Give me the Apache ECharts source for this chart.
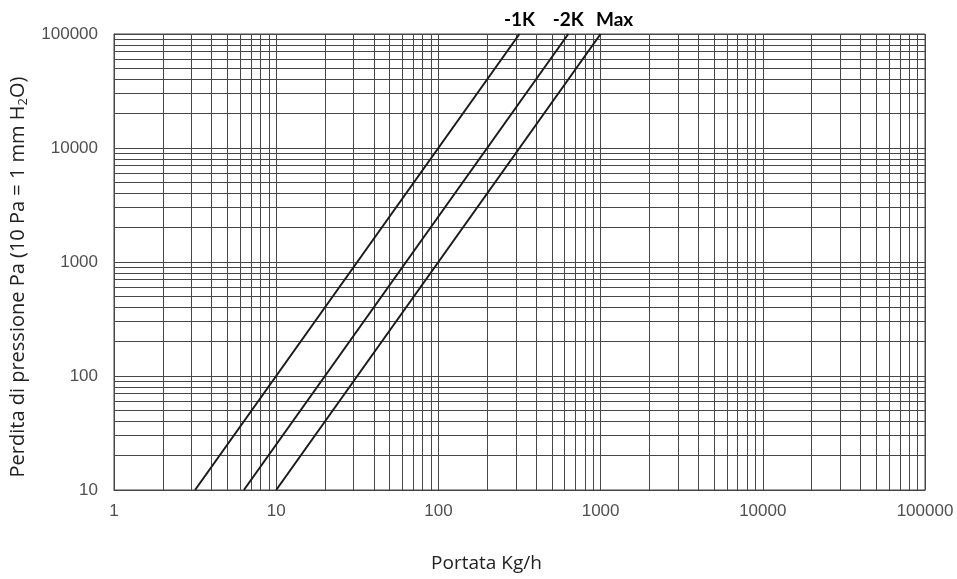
<!DOCTYPE html>
<html>
<head>
<meta charset="utf-8">
<script src="https://cdn.jsdelivr.net/npm/echarts@6/dist/echarts.min.js"></script>
<style>
  html, body { margin: 0; padding: 0; background: #fff; }
  #chart { width: 957px; height: 579px; }
</style>
</head>
<body>
<div id="chart"></div>
<script>
// curves: Portata Kg/h vs perdita di pressione Pa
const curveNames = ['-1K', '-2K', 'Max'];
const curve1K = [[3.16, 10], [316, 100000]];
const curve2K = [[6.32, 10], [632, 100000]];
const curveMax = [[10, 10], [1000, 100000]];

// axis range (decades)
const xTicks = [1, 10, 100, 1000, 10000, 100000];
const yTicks = [10, 100, 1000, 10000, 100000];

// minor grid values 2..9 in each decade
function minorValues(ticks) {
  const out = [];
  for (let i = 0; i < ticks.length - 1; i++) {
    for (let m = 2; m <= 9; m++) out.push(ticks[i] * m);
  }
  return out;
}

const gridColor = '#474747';
const chart = echarts.init(document.getElementById('chart'));

const curveStyle = { color: '#1a1a1a', width: 2 };
const endLabel = (text, dx) => ({
  show: true,
  position: 'top',
  distance: 5,
  offset: [dx, 0],
  formatter: text,
  color: '#000',
  fontWeight: 'bold',
  fontSize: 19,
  fontFamily: 'Lato, Liberation Sans, Arial, sans-serif'
});

function curveSeries(name, pts, dx) {
  return {
    name: name,
    type: 'line',
    symbol: 'circle',
    symbolSize: 0,
    showSymbol: true,
    lineStyle: curveStyle,
    itemStyle: { color: '#1a1a1a' },
    clip: false,
    data: [pts[0], { value: pts[1], label: endLabel(name, dx) }],
    z: 5
  };
}

const option = {
  backgroundColor: '#fff',
  animation: false,
  grid: {
    left: 114,
    right: 32,
    top: 34,
    bottom: 89,
    containLabel: false,
    outerBoundsMode: 'none',
    show: true,
    borderColor: gridColor,
    borderWidth: 1
  },
  xAxis: {
    type: 'log',
    logBase: 10,
    min: xTicks[0],
    max: xTicks[xTicks.length - 1],
    name: 'Portata Kg/h',
    nameLocation: 'middle',
    nameGap: 64,
    nameTextStyle: {
      color: '#222',
      fontSize: 19,
      fontFamily: 'Open Sans, sans-serif',
      padding: [0, 66, 0, 0]
    },
    axisLine: { show: true, lineStyle: { color: gridColor } },
    axisTick: { show: false },
    axisLabel: {
      color: '#505050',
      fontSize: 17,
      fontFamily: 'Liberation Sans, Arial, sans-serif',
      margin: 13,
      formatter: v => String(Math.round(v))
    },
    splitLine: { show: true, lineStyle: { color: gridColor, width: 1 } }
  },
  yAxis: {
    type: 'log',
    logBase: 10,
    min: yTicks[0],
    max: yTicks[yTicks.length - 1],
    name: 'Perdita di pressione Pa (10 Pa = 1 mm H{sub|2}O)',
    nameLocation: 'middle',
    nameGap: 84,
    nameTextStyle: {
      color: '#222',
      fontSize: 20,
      fontFamily: 'Open Sans, sans-serif',
      padding: [0, 30, 0, 0],
      rich: {
        sub: { fontSize: 13, color: '#222', fontFamily: 'Open Sans, sans-serif', padding: [11, 0, 0, 0] }
      }
    },
    axisLine: { show: true, lineStyle: { color: gridColor } },
    axisTick: { show: false },
    axisLabel: {
      color: '#505050',
      fontSize: 17,
      fontFamily: 'Liberation Sans, Arial, sans-serif',
      margin: 16,
      formatter: v => String(Math.round(v))
    },
    splitLine: { show: true, lineStyle: { color: gridColor, width: 1 } }
  },
  series: [
    {
      name: 'grid',
      type: 'line',
      data: [],
      silent: true,
      markLine: {
        silent: true,
        symbol: 'none',
        animation: false,
        label: { show: false },
        lineStyle: { color: gridColor, width: 1, type: 'solid' },
        emphasis: { disabled: true },
        data: minorValues(xTicks).map(v => ({ xAxis: v }))
          .concat(minorValues(yTicks).map(v => ({ yAxis: v })))
      }
    },
    curveSeries(curveNames[0], curve1K, 0),
    curveSeries(curveNames[1], curve2K, 0),
    curveSeries(curveNames[2], curveMax, 14)
  ]
};

chart.setOption(option);
</script>
</body>
</html>
